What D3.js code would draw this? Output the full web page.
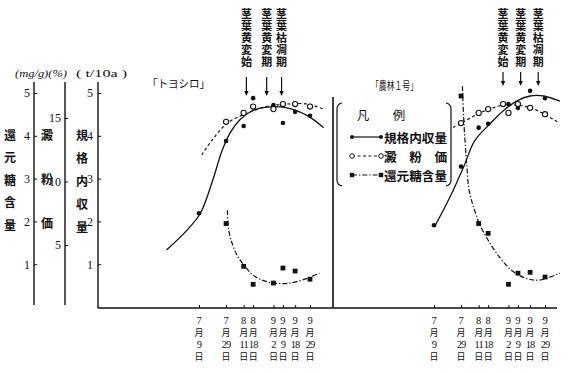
<!DOCTYPE html>
<html>
<head>
<meta charset="utf-8">
<script src="https://cdn.jsdelivr.net/npm/d3@7"></script>
<style>
  body { margin: 0; background: #fff; }
  text { fill: #111; }
</style>
</head>
<body>
<svg id="chart"></svg>
<script>
// sampling dates (month/day)
const sampleDates = ["7/9", "7/29", "8/11", "8/18", "9/2", "9/9", "9/18", "9/29"];
const tickUnits = [1, 2, 3, 4, 5];
const tickStarch = [5, 10, 15];

// 「トヨシロ」 measured points
const toyoYield = [2.19, 3.88, 4.23, 4.88, 4.72, 4.30, 4.56, 4.47];
const toyoStarchDates = ["7/29", "8/11", "8/18", "9/2", "9/9", "9/18", "9/29"];
const toyoStarch = [14.7, 15.4, 15.9, 15.7, 16.1, 16.1, 15.9];
const toyoSugarDates = ["7/29", "8/11", "8/18", "9/2", "9/9", "9/18", "9/29"];
const toyoSugar = [1.95, 0.95, 0.53, 0.56, 0.91, 0.84, 0.65];

// 「トヨシロ」 fitted curves as drawn in the figure
const toyoYieldFitDates = ["6/15", "6/30", "7/10", "7/19", "7/26", "8/1", "8/8", "8/17", "8/28", "9/12", "9/27", "10/9"];
const toyoYieldFit = [1.33, 1.79, 2.19, 2.95, 3.65, 4.07, 4.37, 4.58, 4.67, 4.65, 4.47, 4.19];
const toyoStarchFitDates = ["7/11", "7/19", "7/30", "8/14", "8/28", "9/12", "9/27", "10/9"];
const toyoStarchFit = [12.1, 13.3, 14.6, 15.4, 15.9, 16.1, 16.1, 15.7];
const toyoSugarFitDates = ["7/30", "7/31", "8/3", "8/7", "8/12", "8/17", "8/23", "9/2", "9/14", "9/27", "10/6"];
const toyoSugarFit = [2.26, 1.79, 1.44, 1.16, 0.95, 0.77, 0.65, 0.56, 0.56, 0.67, 0.79];

// 「農林1号」 measured points
const norinYield = [1.91, 3.28, 4.19, 4.28, 4.74, 4.65, 5.05, 4.88];
const norinStarchDates = ["7/29", "8/11", "8/18", "8/29", "9/2", "9/9", "9/18", "9/29"];
const norinStarch = [14.6, 15.4, 15.7, 16.1, 15.4, 16.1, 15.8, 15.3];
const norinSugarDates = ["7/29", "8/11", "8/18", "9/2", "9/9", "9/18", "9/29"];
const norinSugar = [4.93, 1.95, 1.72, 0.53, 0.79, 0.81, 0.70];

// 「農林1号」 fitted curves
const norinYieldFitDates = ["7/10", "7/21", "7/31", "8/8", "8/20", "8/29", "9/8", "9/18", "9/28", "10/10"];
const norinYieldFit = [1.91, 2.58, 3.28, 3.88, 4.30, 4.58, 4.81, 4.93, 4.93, 4.81];
const norinStarchFitDates = ["7/23", "7/30", "8/12", "8/29", "9/15", "9/25", "10/8"];
const norinStarchFit = [14.25, 14.65, 15.4, 16.0, 15.9, 15.5, 14.7];
const norinSugarFitDates = ["7/30", "7/31", "8/2", "8/4", "8/8", "8/12", "8/18", "8/27", "9/5", "9/15", "9/25", "10/10"];
const norinSugarFit = [5.16, 4.35, 3.42, 2.72, 2.26, 1.91, 1.56, 1.14, 0.84, 0.67, 0.63, 0.79];

// growth stage arrows
const stageLabels = ["茎葉黄変始", "茎葉黄変期", "茎葉枯凋期"];
const toyoStageDates = ["8/13", "8/28", "9/8"];
const norinStageDates = ["8/29", "9/11", "9/24"];

const width = 574, height = 373;
const serif = "'Liberation Serif','Noto Sans CJK JP',serif";
const jp = "'Noto Sans CJK JP',sans-serif";

const parse = s => { const [m, d] = s.split("/").map(Number); return new Date(2001, m - 1, d); };
const pts = (dates, vals) => dates.map((d, i) => ({ d: parse(d), v: vals[i] }));

const svg = d3.select("#chart").attr("width", width).attr("height", height);
svg.append("rect").attr("width", width).attr("height", height).attr("fill", "#fff");

// shared y scales
const yYield = d3.scaleLinear().domain([0, 5]).range([307, 93]);
const ySugar = yYield;
const yStarch = d3.scaleLinear().domain([5, 15]).range([245, 118]);

// left axes: labels on the left, short ticks to the right
function leftAxis(x, scale, ticks, pad, bottom) {
    const g = svg.append("g").attr("transform", `translate(${x},0)`);
    g.call(d3.axisLeft(scale).tickValues(ticks).tickFormat(d3.format("d"))
        .tickSizeInner(-3).tickSizeOuter(0).tickPadding(pad));
    g.select(".domain").remove();
    g.selectAll(".tick line").attr("stroke", "#111");
    g.selectAll(".tick text").attr("font-family", serif).attr("font-size", 12).attr("fill", "#111");
    g.append("line").attr("y1", 82).attr("y2", bottom).attr("stroke", "#111").attr("stroke-width", 1.4);
}
leftAxis(34, ySugar, tickUnits, 4, 305);
leftAxis(65, yStarch, tickStarch, 4, 305);
leftAxis(98, yYield, tickUnits, 5, 308);

// unit labels
svg.append("text").attr("x", 15).attr("y", 77).attr("font-family", serif).attr("font-size", 10)
    .attr("font-style", "italic").attr("textLength", 52).attr("lengthAdjust", "spacingAndGlyphs").text("(mg/g)(%)");
svg.append("text").attr("x", 76).attr("y", 77).attr("font-family", serif).attr("font-size", 11)
    .attr("textLength", 51).attr("lengthAdjust", "spacingAndGlyphs").text("( t/10a )");

// vertical text (one element per column)
function vText(parent, x, yTop, str, size, spacing) {
    return parent.append("text").attr("x", x).attr("y", yTop)
        .attr("writing-mode", "vertical-rl").style("text-orientation", "upright")
        .attr("letter-spacing", spacing)
        .attr("font-family", jp).attr("font-size", size).attr("font-weight", 600).text(str);
}
vText(svg, 10, 129, "還元糖含量", 12, 10.5);
vText(svg, 47, 129, "澱粉価", 12, 32);
vText(svg, 82, 129, "規格内収量", 12, 11);

// x baseline and second panel divider
svg.append("line").attr("x1", 98).attr("x2", 557).attr("y1", 308).attr("y2", 308)
    .attr("stroke", "#111").attr("stroke-width", 1.6);
svg.append("line").attr("x1", 333).attr("x2", 333).attr("y1", 97).attr("y2", 308)
    .attr("stroke", "#111").attr("stroke-width", 1.6);

const line = (x, y) => d3.line().x(d => x(d.d)).y(d => y(d.v)).curve(d3.curveCatmullRom.alpha(0.5));

function drawPanel(p) {
    const x = d3.scaleTime().domain([parse("7/9"), parse("9/29")]).range(p.range);
    const g = svg.append("g");

    // date ticks
    const ax = g.append("g").attr("transform", "translate(0,308)")
        .call(d3.axisBottom(x).tickValues(sampleDates.map(parse)).tickSizeInner(-3).tickSizeOuter(0).tickFormat(""));
    ax.select(".domain").remove();
    ax.selectAll(".tick line").attr("stroke", "#111");

    // date labels: month / 月 / day / 日 stacked
    const rows = d => { const [m, dd] = d.split("/"); return [m, "月", dd, "日"]; };
    const lab = g.append("g").selectAll("text").data(sampleDates).join("text")
        .attr("text-anchor", "middle")
        .attr("transform", d => `translate(${x(parse(d))},0)`);
    lab.selectAll("tspan").data(d => rows(d)).join("tspan")
        .attr("x", 0)
        .attr("y", (d, i) => [323.5, 336.2, 347.8, 360.4][i])
        .attr("font-family", (d, i) => i % 2 ? jp : serif)
        .attr("font-size", (d, i) => i % 2 ? 9 : 10.5)
        .attr("letter-spacing", (d, i) => i === 2 ? -0.9 : 0)
        .text(d => d);

    // curves
    g.append("path").datum(pts(p.yieldFitDates, p.yieldFit)).attr("d", line(x, yYield))
        .attr("fill", "none").attr("stroke", "#111").attr("stroke-width", 1.3);
    g.append("path").datum(pts(p.starchFitDates, p.starchFit)).attr("d", line(x, yStarch))
        .attr("fill", "none").attr("stroke", "#111").attr("stroke-width", 1.2).attr("stroke-dasharray", "3,2.5");
    g.append("path").datum(pts(p.sugarFitDates, p.sugarFit)).attr("d", line(x, ySugar))
        .attr("fill", "none").attr("stroke", "#111").attr("stroke-width", 1.2).attr("stroke-dasharray", "5,2,1.3,2");

    // markers
    g.append("g").selectAll("circle").data(pts(sampleDates, p.yield)).join("circle")
        .attr("cx", d => x(d.d)).attr("cy", d => yYield(d.v)).attr("r", 2.3).attr("fill", "#111");
    g.append("g").selectAll("circle").data(pts(p.starchDates, p.starch)).join("circle")
        .attr("cx", d => x(d.d)).attr("cy", d => yStarch(d.v)).attr("r", 2.6)
        .attr("fill", "#fff").attr("stroke", "#111").attr("stroke-width", 1.1);
    g.append("g").selectAll("rect").data(pts(p.sugarDates, p.sugar)).join("rect")
        .attr("x", d => x(d.d) - 2.4).attr("y", d => ySugar(d.v) - 2.4)
        .attr("width", 4.8).attr("height", 4.8).attr("fill", "#111");

    // stage arrows and labels
    p.stageDates.forEach((sd, i) => {
        const cx = x(parse(sd));
        vText(g, cx, 8, stageLabels[i], 11, 1);
        g.append("line").attr("x1", cx).attr("x2", cx).attr("y1", p.arrow[0]).attr("y2", p.arrow[1] - 4)
            .attr("stroke", "#111").attr("stroke-width", 1.2);
        g.append("path").attr("d", `M${cx - 2.2},${p.arrow[1] - 5}L${cx + 2.2},${p.arrow[1] - 5}L${cx},${p.arrow[1]}Z`)
            .attr("fill", "#111");
    });

    // variety title
    g.append("text").attr("x", p.title[0]).attr("y", p.title[1]).attr("dominant-baseline", "central")
        .attr("font-family", jp).attr("font-size", 11).attr("textLength", p.title[2])
        .attr("lengthAdjust", "spacingAndGlyphs").text(p.name);
}

drawPanel({
    name: "「トヨシロ」", range: [199, 310], title: [147, 83, 63], arrow: [77, 96],
    yield: toyoYield, starchDates: toyoStarchDates, starch: toyoStarch,
    sugarDates: toyoSugarDates, sugar: toyoSugar,
    yieldFitDates: toyoYieldFitDates, yieldFit: toyoYieldFit,
    starchFitDates: toyoStarchFitDates, starchFit: toyoStarchFit,
    sugarFitDates: toyoSugarFitDates, sugarFit: toyoSugarFit,
    stageDates: toyoStageDates
});
drawPanel({
    name: "「農林１号」", range: [434, 545], title: [371, 85, 47], arrow: [72, 86],
    yield: norinYield, starchDates: norinStarchDates, starch: norinStarch,
    sugarDates: norinSugarDates, sugar: norinSugar,
    yieldFitDates: norinYieldFitDates, yieldFit: norinYieldFit,
    starchFitDates: norinStarchFitDates, starchFit: norinStarchFit,
    sugarFitDates: norinSugarFitDates, sugarFit: norinSugarFit,
    stageDates: norinStageDates
});

// legend
const lg = svg.append("g");
lg.append("rect").attr("x", 338).attr("y", 103).attr("width", 112).attr("height", 83).attr("fill", "#fff");
lg.append("path").attr("d", "M342,103 Q337,104 337,109 L337,180 Q337,185 342,186")
    .attr("fill", "none").attr("stroke", "#111").attr("stroke-width", 1.2);
lg.append("path").attr("d", "M446,103 Q451,104 451,109 L451,180 Q451,185 446,186")
    .attr("fill", "none").attr("stroke", "#111").attr("stroke-width", 1.2);
lg.append("text").attr("x", 363).attr("y", 114).attr("text-anchor", "middle").attr("dominant-baseline", "central")
    .attr("font-family", jp).attr("font-size", 12.5).text("凡");
lg.append("text").attr("x", 399).attr("y", 114).attr("text-anchor", "middle").attr("dominant-baseline", "central")
    .attr("font-family", jp).attr("font-size", 12.5).text("例");

const legendRows = [
    { y: 137, label: "規格内収量", dash: null, mark: "dot" },
    { y: 156, label: "澱　粉　価", dash: "3,2.5", mark: "open" },
    { y: 175, label: "還元糖含量", dash: "5,2,1.3,2", mark: "square" }
];
legendRows.forEach(r => {
    lg.append("line").attr("x1", 352).attr("x2", 381).attr("y1", r.y).attr("y2", r.y)
        .attr("stroke", "#111").attr("stroke-width", 1.2).attr("stroke-dasharray", r.dash);
    [352, 381].forEach(cx => {
        if (r.mark === "dot") lg.append("circle").attr("cx", cx).attr("cy", r.y).attr("r", 2).attr("fill", "#111");
        else if (r.mark === "open") lg.append("circle").attr("cx", cx).attr("cy", r.y).attr("r", 2.3)
            .attr("fill", "#fff").attr("stroke", "#111");
        else lg.append("rect").attr("x", cx - 2.2).attr("y", r.y - 2.2).attr("width", 4.4).attr("height", 4.4).attr("fill", "#111");
    });
    lg.append("text").attr("x", 384).attr("y", r.y).attr("dominant-baseline", "central")
        .attr("font-family", jp).attr("font-size", 12.5).attr("font-weight", 600)
        .attr("textLength", 63).attr("lengthAdjust", "spacingAndGlyphs").text(r.label);
});
</script>
</body>
</html>
